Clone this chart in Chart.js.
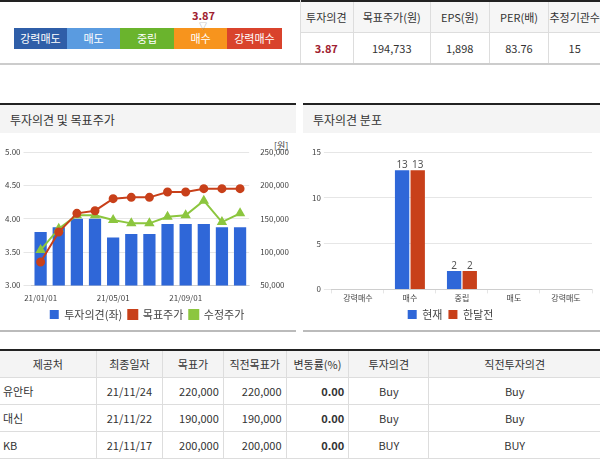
<!DOCTYPE html>
<html><head><meta charset="utf-8">
<script src="https://cdn.jsdelivr.net/npm/chart.js@4/dist/chart.umd.min.js"></script>
<style>
body{margin:0;width:600px;height:460px;overflow:hidden;background:#fff;font-family:"Noto Sans CJK KR","Noto Sans",sans-serif;color:#333;position:relative}
.abs{position:absolute}
table{border-collapse:collapse;font-size:11px}
td,th{font-weight:normal;text-align:center;padding:0;white-space:nowrap}
.gauge div{position:absolute;top:0;height:21px;line-height:21px;color:#fff;font-size:11px;text-align:center}
.hdr{position:absolute;top:103px;height:30px;background:#f4f4f4;border-top:2px solid #222;font-size:12px;line-height:30px;padding-left:10px;box-sizing:border-box}
</style></head><body>
<div class="abs" style="left:0;top:0;width:600px;height:2px;background:#222"></div>
<div class="abs gauge" style="left:14px;top:28px;width:268px;height:21px">
<div style="left:0;width:53px;background:#2f5ea8">강력매도</div>
<div style="left:53px;width:53px;background:#5a9be0">매도</div>
<div style="left:106px;width:54px;background:#6ab42d">중립</div>
<div style="left:160px;width:53px;background:#f7941d">매수</div>
<div style="left:213px;width:55px;background:#d9432c">강력매수</div>
</div>
<div class="abs" style="left:192px;top:7px;font-size:11px;font-weight:bold;color:#a02030">3.87</div>
<div class="abs" style="left:199px;top:20px;font-size:8px;color:#999">▽</div>
<table class="abs" style="left:300px;top:2px;width:300px;height:62px;font-size:11px">
<tr style="height:30px;background:#f6f6f6;border-bottom:1px solid #ddd"><td style="width:54px">투자의견</td><td style="width:78px;border-left:1px solid #ddd">목표주가(원)</td><td style="width:60px;border-left:1px solid #ddd">EPS(원)</td><td style="width:61px;border-left:1px solid #ddd">PER(배)</td><td style="border-left:1px solid #ddd">추정기관수</td></tr>
<tr><td style="color:#a02030;font-weight:bold">3.87</td><td style="border-left:1px solid #ddd">194,733</td><td style="border-left:1px solid #ddd">1,898</td><td style="border-left:1px solid #ddd">83.76</td><td style="border-left:1px solid #ddd">15</td></tr>
</table>
<div class="abs" style="left:300px;top:0;width:1px;height:64px;background:#ddd"></div>
<div class="abs" style="left:0;top:63px;width:600px;height:2px;background:#ccc"></div>
<div class="hdr" style="left:0;width:296px">투자의견 및 목표주가</div>
<div class="hdr" style="left:303px;width:297px">투자의견 분포</div>
<div class="abs" style="left:0;top:330px;width:296px;height:2px;background:#bbb"></div>
<div class="abs" style="left:303px;top:330px;width:297px;height:2px;background:#bbb"></div>
<div class="abs" style="left:274px;top:139px;font-size:9px;color:#444">[원]</div>
<div class="abs" style="left:0;top:142px;width:296px;height:188px"><canvas id="c1"></canvas></div>
<div class="abs" style="left:303px;top:142px;width:297px;height:188px"><canvas id="c2"></canvas></div>
<div class="abs" style="left:0;top:349px;width:600px;height:2px;background:#222"></div>
<table class="abs" id="bt" style="left:0;top:351px;width:600px;font-size:11px"></table>
<script>
const months=["21/01/01","","","","21/05/01","","","","21/09/01","","",""];
const opinion=[3.80,3.87,4.00,4.00,3.72,3.77,3.77,3.92,3.92,3.92,3.87,3.87];
const target=[85000,130000,158000,162000,180000,182000,182000,190000,190000,195000,195000,195000];
const adjPrice=[103000,135000,155000,155000,148000,143000,143000,153000,155000,177000,145000,158000];
const distCats=["강력매수","매수","중립","매도","강력매도"];
const distNow=[0,13,2,0,0];
const distPrev=[0,13,2,0,0];
const rows=[["유안타","21/11/24","220,000","220,000","0.00","Buy","Buy"],["대신","21/11/22","190,000","190,000","0.00","Buy","Buy"],["KB","21/11/17","200,000","200,000","0.00","BUY","BUY"]];
const heads=["제공처","최종일자","목표가","직전목표가","변동률(%)","투자의견","직전투자의견"];
const widths=[97,66,60,62,62,80,173];
let h='<tr style="height:26px;background:#f4f4f4;border-bottom:1px solid #ddd">'+heads.map((t,i)=>`<td style="width:${widths[i]}px;${i?'border-left:1px solid #ddd':''}">${t}</td>`).join('')+'</tr>';
rows.forEach(r=>{h+='<tr style="height:27px;border-bottom:1px solid #ddd">'+r.map((t,i)=>{let al=i==0?'left;padding-left:3px':(i>=2&&i<=4?'right;padding-right:4px':'center');return `<td style="text-align:${al};${i?'border-left:1px solid #ddd;':''}${i==4?'font-weight:bold;':''}">${t}</td>`}).join('')+'</tr>'});
document.getElementById('bt').innerHTML=h;
Chart.defaults.font.family='"Noto Sans CJK KR","Noto Sans",sans-serif';
Chart.defaults.font.size=8;Chart.defaults.color='#444';
new Chart(document.getElementById('c1'),{data:{labels:months,datasets:[
{type:'bar',label:'투자의견(좌)',data:opinion,yAxisID:'y',backgroundColor:'#2f67d8',barPercentage:0.75,categoryPercentage:0.9,order:5},
{type:'line',label:'목표주가',data:target,yAxisID:'y1',borderColor:'#c8401a',backgroundColor:'#c8401a',pointRadius:3.5,borderWidth:2,pointStyle:'circle',order:1},
{type:'line',label:'수정주가',data:adjPrice,yAxisID:'y1',borderColor:'#8cc63f',backgroundColor:'#8cc63f',pointRadius:4,borderWidth:2,pointStyle:'triangle',order:2}]},
options:{responsive:true,maintainAspectRatio:false,animation:false,layout:{padding:{top:10,right:4,left:2}},
plugins:{legend:{position:'bottom',labels:{sort:(a,b)=>a.datasetIndex-b.datasetIndex,boxWidth:9,boxHeight:9,padding:6,font:{size:11}}}},
scales:{x:{grid:{display:false},ticks:{autoSkip:false,maxRotation:0,padding:0}},
y:{min:3,max:5,ticks:{stepSize:0.5,callback:v=>v.toFixed(2)},grid:{color:'#e6e6e6'},border:{display:false}},
y1:{position:'right',min:50000,max:250000,ticks:{stepSize:50000,callback:v=>v.toLocaleString('en-US')},grid:{display:false},border:{display:false}}}}});
const lbl={id:'lbl',afterDatasetsDraw(c){const x=c.ctx;x.save();x.font='10px "Noto Sans"';x.fillStyle='#555';x.textAlign='center';c.data.datasets.forEach((d,i)=>{c.getDatasetMeta(i).data.forEach((b,j)=>{if(d.data[j]>0)x.fillText(d.data[j],b.x,b.y-5)})});x.restore();}};
new Chart(document.getElementById('c2'),{type:'bar',data:{labels:distCats,datasets:[
{label:'현재',data:distNow,backgroundColor:'#2f67d8',barPercentage:0.92,categoryPercentage:0.6},{label:'한달전',data:distPrev,backgroundColor:'#c8401a',barPercentage:0.92,categoryPercentage:0.6}]},
options:{responsive:true,maintainAspectRatio:false,animation:false,layout:{padding:{top:10,right:8,left:6}},
plugins:{legend:{position:'bottom',labels:{boxWidth:9,boxHeight:9,padding:6,font:{size:11}}}},
scales:{x:{grid:{drawOnChartArea:false,tickLength:4},ticks:{padding:0}},y:{min:0,max:15,ticks:{stepSize:5},grid:{color:'#e6e6e6'},border:{display:false}}}},plugins:[lbl]});
</script></body></html>
